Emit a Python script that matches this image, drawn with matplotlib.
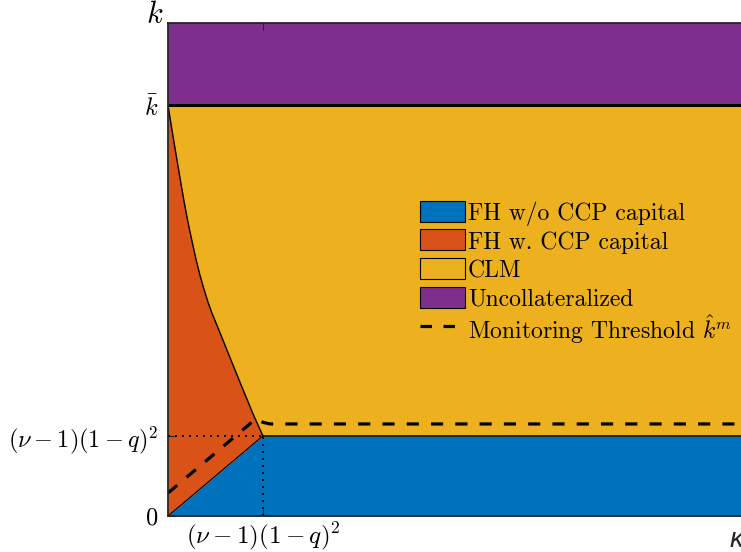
import numpy as np
import matplotlib
matplotlib.use('Agg')
import matplotlib.pyplot as plt
from matplotlib.patches import Rectangle
from matplotlib.lines import Line2D

plt.rcParams['mathtext.fontset'] = 'cm'
plt.rcParams['font.family'] = ['cmr10', 'DejaVu Sans']
plt.rcParams['axes.unicode_minus'] = False

# values (x, k in data units, k_bar = 1)
t = 0.195            # (nu-1)(1-q)^2
k_bar = 1.0
k_top = 1.2
x_max = 1.2

# upper edge of the FH w. CCP capital region
curve_x = [0.0, 0.0082, 0.0164, 0.0246, 0.0329, 0.0411, 0.0493, 0.0575, 0.0657,
           0.0739, 0.0821, 0.0903, 0.1027, 0.1191, 0.1478, 0.1745, 0.195]
curve_y = [1.0, 0.939, 0.881, 0.823, 0.766, 0.715, 0.669, 0.625, 0.586,
           0.552, 0.521, 0.494, 0.458, 0.410, 0.326, 0.249, 0.195]

# monitoring threshold k_hat^m
mon_x = [0.0, 0.181, 0.195, 0.21, 1.2]
mon_y = [0.056, 0.237, 0.228, 0.224, 0.224]

labels = ['FH w/o CCP capital', 'FH w. CCP capital', 'CLM', 'Uncollateralized']
mon_label = r'Monitoring Threshold $\hat{k}^m$'

c_blue = '#0072BD'
c_orange = '#D95319'
c_yellow = '#EDB120'
c_purple = '#7E2F8E'
colors = [c_blue, c_orange, c_yellow, c_purple]

W, H = 741, 552
fig = plt.figure(figsize=(W/100, H/100), dpi=100)
ax = fig.add_axes([168/W, 36/H, 584/W, 493/H])

# CLM background
ax.fill_between([0, x_max], 0, k_bar, color=c_yellow, lw=0)
# uncollateralized
ax.fill_between([0, x_max], k_bar, k_top, color=c_purple, lw=0)
ax.plot([0, x_max], [k_bar, k_bar], color='k', lw=2.2)

# FH w/o CCP capital
bx = np.array([0, t, x_max])
by = np.array([0, t, t])
ax.fill_between(bx, 0, by, color=c_blue, lw=0)
ax.plot([t, x_max], [t, t], color='#111111', lw=1.2)

# FH w. CCP capital
cx = np.array(curve_x)
cy = np.array(curve_y)
ax.fill_between(cx, cx, cy, color=c_orange, lw=0)
ax.plot(cx, cy, color='k', lw=1.0)
ax.plot([0, t], [0, t], color='k', lw=0.8)

# dotted guides
ax.plot([0, t], [t, t], color='k', lw=1.4, ls=(0, (1.0, 2.6)))
ax.plot([t, t], [0, t], color='k', lw=1.4, ls=(0, (1.0, 2.6)))

# monitoring threshold
ax.plot(mon_x, mon_y, color='k', lw=2.3, ls=(0, (3.8, 3.8)))

ax.set_xlim(0, x_max)
ax.set_ylim(0, k_top)
ax.set_xticks([t])
ax.set_xticklabels([r'$(\nu-1)(1-q)^2$'], fontsize=18)
ax.set_yticks([0, t, k_bar])
ax.set_yticklabels([r'$0$', r'$(\nu-1)(1-q)^2$', r'$\bar{k}$'], fontsize=17.5)
ax.tick_params(direction='in', length=5, width=0.8, top=True, right=True,
               color='#262626')
ax.tick_params(axis='x', pad=3)
ax.tick_params(axis='y', pad=7)
for s in ax.spines.values():
    s.set_color('#262626')
    s.set_linewidth(1.3)
    s.set_zorder(5)

ax.text(-0.007, 1.0, r'$k$', transform=ax.transAxes, ha='right',
        va='baseline', fontsize=22)
fig.text(730/W, 1 - 547/H, '\u03ba', fontsize=20, style='italic',
         family='Liberation Sans', ha='left', va='baseline', color='#262626')

# legend, drawn by hand in figure pixels
row_top = 200.7
row_step = 28.7
for i, (lab, col) in enumerate(zip(labels, colors)):
    y0 = row_top + i * row_step
    fig.patches.append(Rectangle((420/W, 1 - (y0 + 21)/H), 45/W, 21/H,
                                 transform=fig.transFigure, facecolor=col,
                                 edgecolor='k', lw=0.8))
    fig.text(468/W, 1 - (y0 + 10.5)/H, lab, fontsize=17, ha='left',
             va='center_baseline')
y_mon = row_top + 4 * row_step + 10.5
fig.lines.append(Line2D([420/W, 465/W], [1 - y_mon/H, 1 - y_mon/H],
                        transform=fig.transFigure, color='k', lw=2.3,
                        ls=(0, (3.6, 3.6))))
fig.text(468/W, 1 - y_mon/H, mon_label, fontsize=17, ha='left',
         va='center_baseline')

fig.savefig('out.png', dpi=100)
